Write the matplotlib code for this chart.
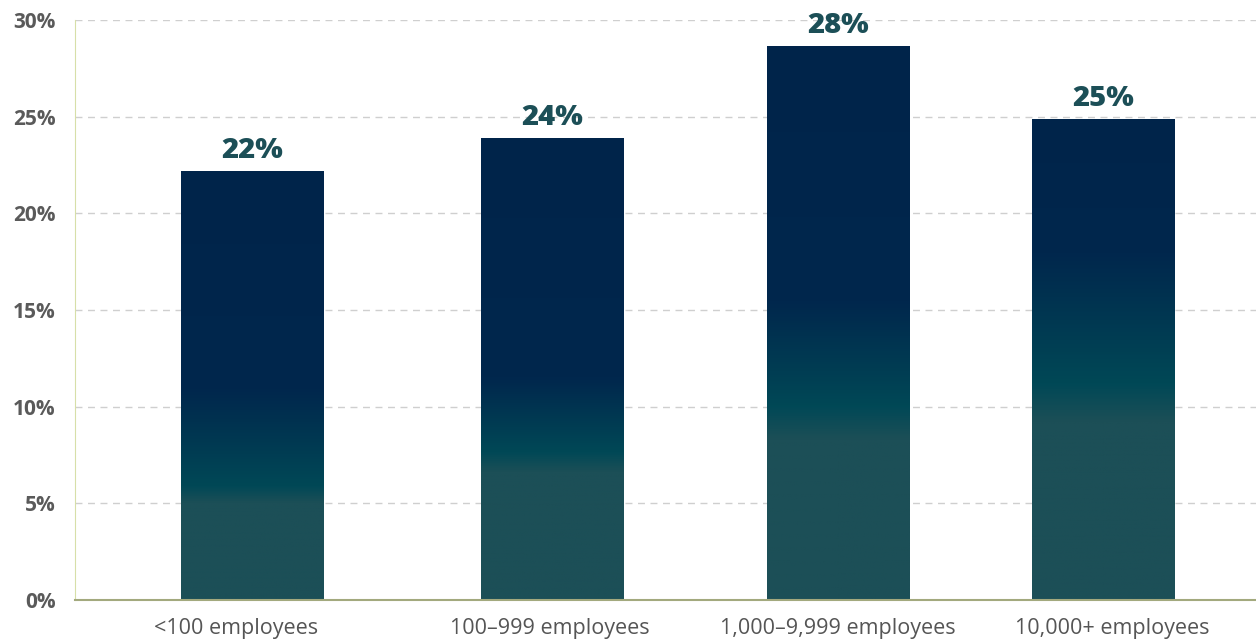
import numpy as np
import matplotlib
matplotlib.use('Agg')
import matplotlib.pyplot as plt
from matplotlib.colors import LinearSegmentedColormap
from matplotlib.patches import Rectangle

# data
categories = ['<100 employees', '100–999 employees', '1,000–9,999 employees', '10,000+ employees']
values = [22.2, 23.9, 28.65, 24.9]
value_labels = ['22%', '24%', '28%', '25%']
y_ticks = [0, 5, 10, 15, 20, 25, 30]

# layout (axes x units ~ pixels)
bar_x = [177.5, 477, 763.5, 1028.5]
label_x = [161, 474.5, 762.5, 1037]
bar_w = 143
# gradient stops per bar (fraction of bar height): teal ends, mid-teal, navy starts
grad_stops = [(0.225, 0.265, 0.49), (0.275, 0.32, 0.48),
              (0.29, 0.35, 0.54), (0.37, 0.45, 0.72)]

plt.rcParams['font.family'] = ['Open Sans', 'DejaVu Sans']

fig = plt.figure(figsize=(12.56, 6.43), dpi=100)
ax = fig.add_axes([75 / 1256, 43 / 643, 1 - 75 / 1256, 580 / 643])
ax.set_xlim(0, 1181)
ax.set_ylim(0, 30)

grad = np.linspace(0, 1, 512).reshape(-1, 1)

for x, v, (a, b, c) in zip(bar_x, values, grad_stops):
    cmap = LinearSegmentedColormap.from_list('bar', [
        (0.0, '#1c4f57'), (a, '#1c4f57'), (b, '#004856'),
        (c, '#00274d'), (1.0, '#00244a')])
    im = ax.imshow(grad, cmap=cmap, origin='lower', aspect='auto',
                   extent=(x - bar_w / 2, x + bar_w / 2, 0, v), zorder=2)
    clip = Rectangle((x - bar_w / 2, 0), bar_w, v, transform=ax.transData)
    im.set_clip_path(clip)

for x, v, lab in zip(bar_x, values, value_labels):
    ax.text(x, v + 0.3, lab, ha='center', va='bottom', fontsize=21,
            fontweight='heavy', color='#1c4f57')

ax.set_yticks(y_ticks)
ax.set_yticklabels([f'{t}%' for t in y_ticks], fontsize=15, fontweight='bold', color='#5a5a5a')
ax.set_xticks(label_x)
ax.set_xticklabels(categories, fontsize=15.5, color='#555555')
ax.tick_params(axis='both', length=0)
ax.tick_params(axis='y', pad=14)
ax.tick_params(axis='x', pad=13)

ax.grid(axis='y', color='#cfcfcf', linestyle=(0, (5, 4)), linewidth=1, zorder=0)
ax.set_axisbelow(True)
for s in ['top', 'right']:
    ax.spines[s].set_visible(False)
ax.spines['left'].set_color('#d7dfa8')
ax.spines['bottom'].set_color('#a3a97e')
ax.spines['bottom'].set_linewidth(1.5)
ax.spines['bottom'].set_zorder(3)

fig.savefig('out.png', dpi=100)
